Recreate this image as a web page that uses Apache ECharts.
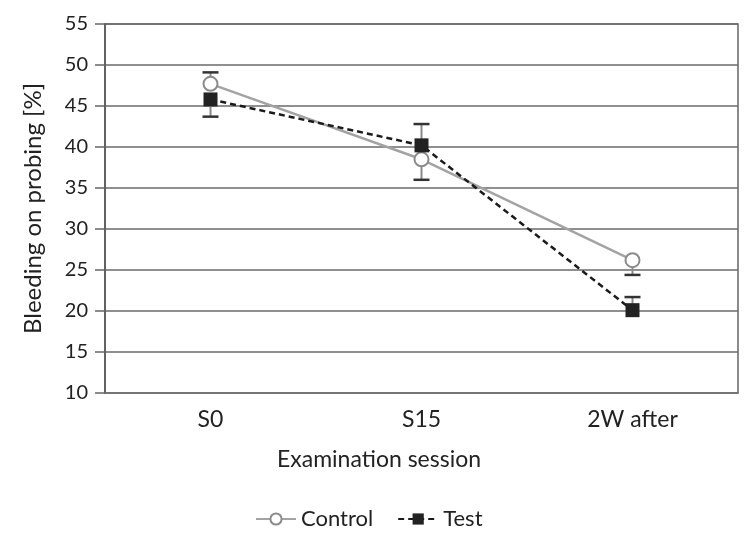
<!DOCTYPE html>
<html>
<head>
<meta charset="utf-8">
<script src="https://cdn.jsdelivr.net/npm/echarts@6/dist/echarts.min.js"></script>
<style>html,body{margin:0;padding:0;background:#fff}#c{width:751px;height:535px}</style>
</head>
<body>
<div id="c"></div>
<script>
const categories = ['S0', 'S15', '2W after'];
const controlValues = [47.7, 38.5, 26.2];
const testValues = [45.8, 40.2, 20.1];
const controlErrPlus = [1.4, 0, 0];
const controlErrMinus = [0, 2.5, 1.8];
const testErrPlus = [0, 2.6, 1.6];
const testErrMinus = [2.1, 0, 0];
const yMin = 10, yMax = 55, yStep = 5;

const FONT = 'Lato, "Open Sans", sans-serif';
const chart = echarts.init(document.getElementById('c'));

function errData(vals, plus, minus) {
  return vals.map((v, i) => [i, v, plus[i], minus[i]]);
}
function renderErr(params, api) {
  const i = api.value(0), v = api.value(1), p = api.value(2), m = api.value(3);
  const c = api.coord([i, v]);
  const hi = api.coord([i, v + p]);
  const lo = api.coord([i, v - m]);
  const half = 8;
  const children = [];
  children.push({ type: 'line', shape: { x1: c[0], y1: hi[1], x2: c[0], y2: lo[1] },
    style: { stroke: '#8a8a8a', lineWidth: 2 } });
  if (p > 0) children.push({ type: 'line', shape: { x1: c[0] - half, y1: hi[1], x2: c[0] + half, y2: hi[1] },
    style: { stroke: '#333', lineWidth: 2.5 } });
  if (m > 0) children.push({ type: 'line', shape: { x1: c[0] - half, y1: lo[1], x2: c[0] + half, y2: lo[1] },
    style: { stroke: '#333', lineWidth: 2.5 } });
  return { type: 'group', children };
}

chart.setOption({
  animation: false,
  textStyle: { fontFamily: FONT },
  grid: { left: 105, right: 13, top: 24, bottom: 142, show: true, borderColor: '#666', borderWidth: 1.5 },
  xAxis: {
    type: 'category', data: categories, boundaryGap: true,
    axisLine: { lineStyle: { color: '#777', width: 1.5 } },
    axisTick: { show: false },
    axisLabel: { color: '#222', fontSize: 23, margin: 15, fontFamily: FONT }
  },
  yAxis: {
    type: 'value', min: yMin, max: yMax, interval: yStep,
    name: 'Bleeding on probing [%]', nameLocation: 'middle', nameGap: 60,
    nameTextStyle: { color: '#222', fontSize: 24, fontFamily: FONT },
    axisLine: { show: true, lineStyle: { color: '#555', width: 1.5 } },
    axisTick: { show: true, inside: false, length: 10, lineStyle: { color: '#666', width: 1.5 } },
    axisLabel: { color: '#222', fontSize: 20, margin: 17, fontFamily: FONT },
    splitLine: { lineStyle: { color: '#6a6a6a', width: 1.5 } }
  },
  legend: {
    bottom: 0, left: 250, itemWidth: 40, itemHeight: 14, itemGap: 24,
    textStyle: { color: '#222', fontSize: 22, fontFamily: FONT },
    data: ['Control', 'Test']
  },
  graphic: [{
    type: 'text', left: 277, top: 448,
    style: { text: 'Examination session', font: '23px ' + FONT, fill: '#222' }
  }],
  series: [
    { type: 'custom', name: 'cErr', renderItem: renderErr, data: errData(controlValues, controlErrPlus, controlErrMinus), z: 1, silent: true },
    { type: 'custom', name: 'tErr', renderItem: renderErr, data: errData(testValues, testErrPlus, testErrMinus), z: 1, silent: true },
    {
      type: 'line', name: 'Control', data: controlValues, z: 3,
      symbol: 'circle', symbolSize: 14,
      lineStyle: { color: '#a3a3a3', width: 2.5 },
      itemStyle: { color: '#fff', borderColor: '#8a8a8a', borderWidth: 2 }
    },
    {
      type: 'line', name: 'Test', data: testValues, z: 4,
      symbol: 'rect', symbolSize: 14,
      lineStyle: { color: '#1a1a1a', width: 2.5, type: [6, 4] },
      itemStyle: { color: '#222', borderColor: '#222', borderWidth: 0 }
    }
  ]
});
</script>
</body>
</html>
